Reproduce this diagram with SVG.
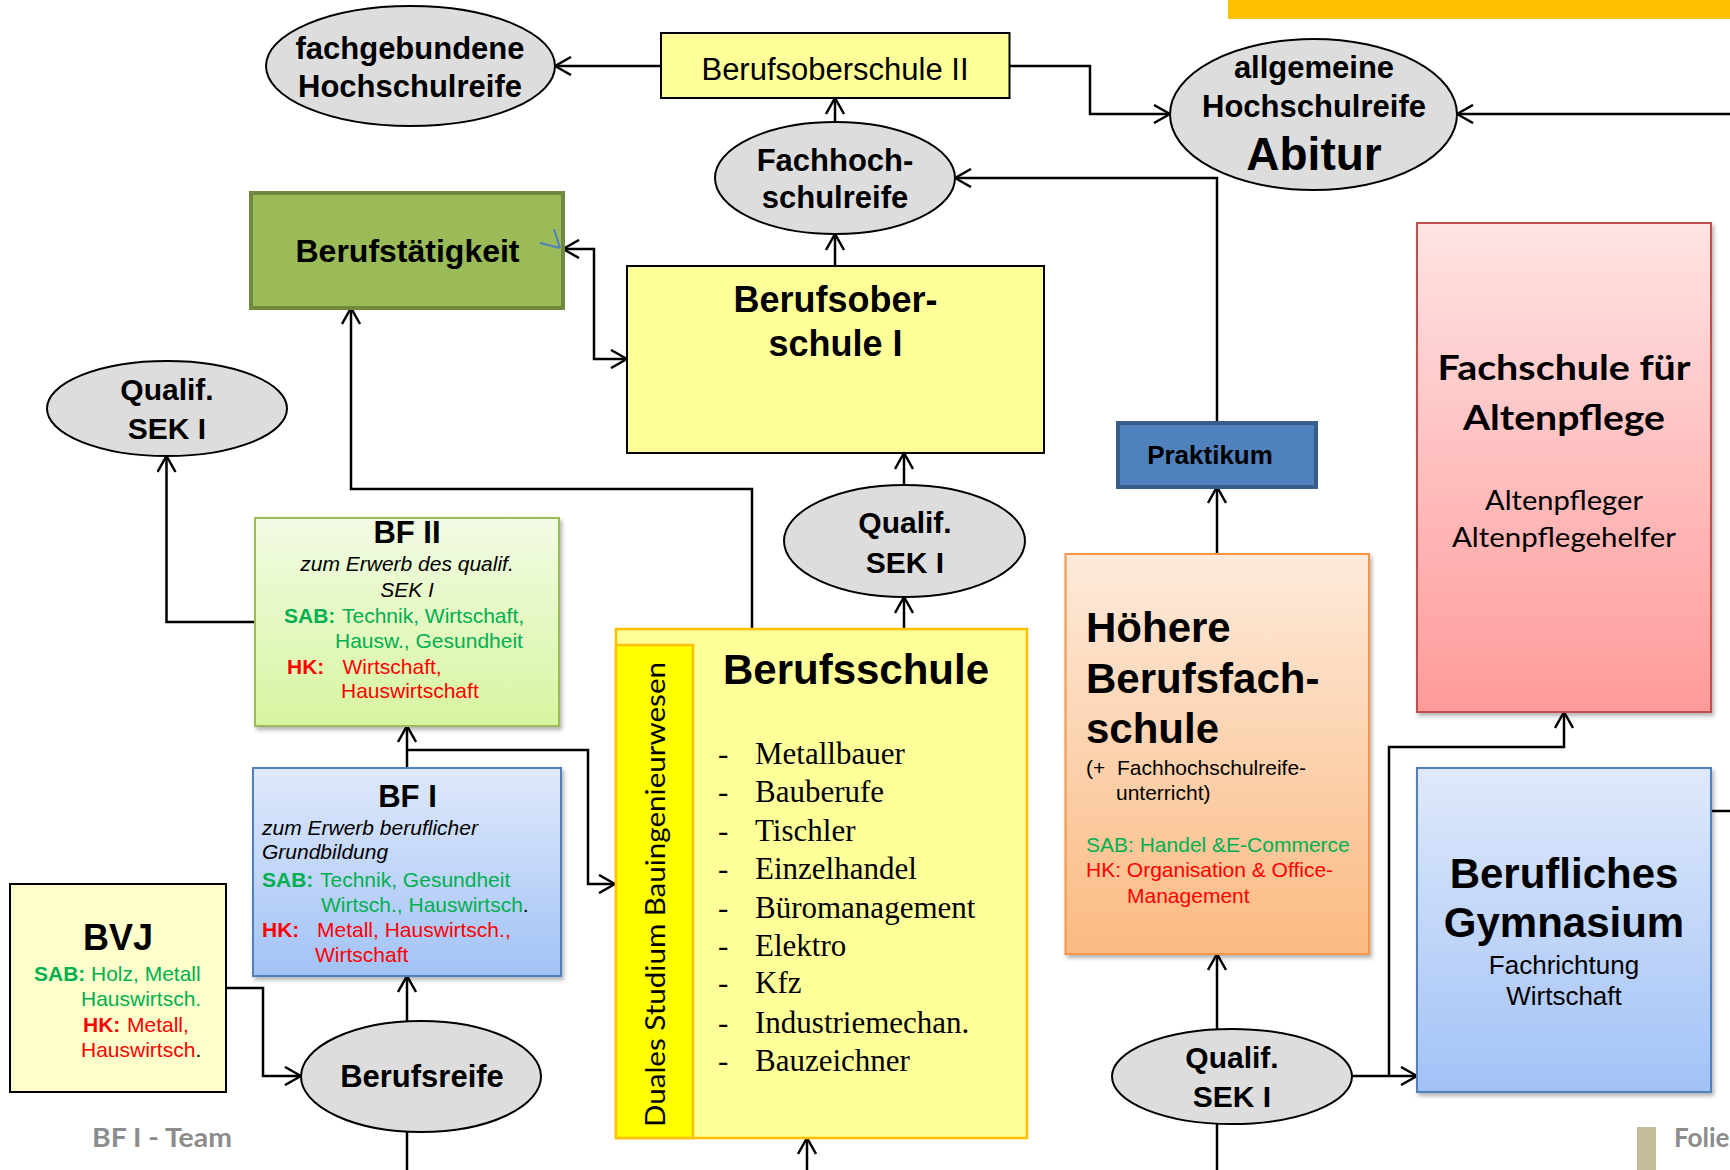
<svg xmlns="http://www.w3.org/2000/svg" width="1730" height="1170" viewBox="0 0 1730 1170">
<defs>
<style>
.s{font-family:"Liberation Sans",Arial,sans-serif}
.b{font-weight:bold}
.i{font-style:italic}
.c{text-anchor:middle}
.serif{font-family:"Liberation Serif","Times New Roman",serif;font-size:31px}
.cal{font-family:Lato,"Open Sans",sans-serif}
.g{fill:#00B050}
.r{fill:#FF0000}
.conn path{fill:none;stroke:#000;stroke-width:2.5}
.ell{fill:#DDDDDD;stroke:#000;stroke-width:2}
</style>
<marker id="ah" viewBox="0 0 18 20" refX="17" refY="10" markerWidth="18" markerHeight="20" markerUnits="userSpaceOnUse" orient="auto-start-reverse">
<path d="M1,1 L17,10 L1,19" fill="none" stroke="#000" stroke-width="2.5"/>
</marker>
<linearGradient id="gGreen" x1="0" y1="0" x2="0" y2="1"><stop offset="0" stop-color="#F2FBE4"/><stop offset="1" stop-color="#D7F5A0"/></linearGradient>
<linearGradient id="gBlue" x1="0" y1="0" x2="0" y2="1"><stop offset="0" stop-color="#DFE9FB"/><stop offset="1" stop-color="#A2C2F6"/></linearGradient>
<linearGradient id="gOrange" x1="0" y1="0" x2="0" y2="1"><stop offset="0" stop-color="#FDEADA"/><stop offset="1" stop-color="#FBBA82"/></linearGradient>
<linearGradient id="gPink" x1="0" y1="0" x2="0" y2="1"><stop offset="0" stop-color="#FFE3E3"/><stop offset="1" stop-color="#FF9A9A"/></linearGradient>
<filter id="sh" x="-10%" y="-10%" width="125%" height="125%"><feDropShadow dx="2" dy="3" stdDeviation="2" flood-color="#000" flood-opacity="0.3"/></filter>
</defs>
<rect x="0" y="0" width="1730" height="1170" fill="#FFFFFF"/>
<rect x="1228" y="0" width="502" height="19" fill="#FFC000"/>

<g class="conn">
<path d="M661,66 H555" marker-end="url(#ah)"/>
<path d="M1009.5,66 H1090 V114 H1170" marker-end="url(#ah)"/>
<path d="M835,122 V98" marker-end="url(#ah)"/>
<path d="M835,266 V234" marker-end="url(#ah)"/>
<path d="M1217,423 V178 H955" marker-end="url(#ah)"/>
<path d="M1730,114 H1457" marker-end="url(#ah)"/>
<path d="M563,249 H594 V359 H627" marker-start="url(#ah)" marker-end="url(#ah)"/>
<path d="M752,629 V489 H351 V308" marker-end="url(#ah)"/>
<path d="M255,622 H166.5 V456" marker-end="url(#ah)"/>
<path d="M407,768 V726" marker-end="url(#ah)"/>
<path d="M407,750 H588 V884 H615" marker-end="url(#ah)"/>
<path d="M904,485 V453" marker-end="url(#ah)"/>
<path d="M904,629 V597" marker-end="url(#ah)"/>
<path d="M1217,554 V487" marker-end="url(#ah)"/>
<path d="M1217,1029 V954" marker-end="url(#ah)"/>
<path d="M1217,1124 V1170"/>
<path d="M1351.6,1076 H1417" marker-end="url(#ah)"/>
<path d="M1389,1076 V747 H1564 V712" marker-end="url(#ah)"/>
<path d="M1711,811 H1730"/>
<path d="M226,988 H263 V1076 H301" marker-end="url(#ah)"/>
<path d="M407,1021 V976" marker-end="url(#ah)"/>
<path d="M407,1132 V1170"/>
<path d="M807,1170 V1138" marker-end="url(#ah)"/>
</g>

<g id="fachgebundene">
<ellipse class="ell" cx="410.5" cy="66" rx="144.5" ry="60"/>
<text class="s b c" x="410" y="59" font-size="31">fachgebundene</text>
<text class="s b c" x="410" y="97" font-size="31">Hochschulreife</text>
</g>

<g id="bos2">
<rect x="661" y="33" width="348.5" height="65" fill="#FFFF99" stroke="#000" stroke-width="2"/>
<text class="s c" x="835" y="80" font-size="31">Berufsoberschule II</text>
</g>

<g id="allgemeine">
<ellipse class="ell" cx="1313.5" cy="114.5" rx="143.5" ry="75.5"/>
<text class="s b c" x="1314" y="78" font-size="31">allgemeine</text>
<text class="s b c" x="1314" y="117" font-size="31">Hochschulreife</text>
<text class="s b c" x="1314" y="170" font-size="46">Abitur</text>
</g>

<g id="fhr">
<ellipse class="ell" cx="835" cy="178" rx="120" ry="56"/>
<text class="s b c" x="835" y="171" font-size="31">Fachhoch-</text>
<text class="s b c" x="835" y="208" font-size="31">schulreife</text>
</g>

<g id="berufstaetigkeit">
<rect x="251" y="193" width="312" height="115" fill="#9BBB59" stroke="#71893F" stroke-width="4"/>
<text class="s b c" x="407.5" y="262" font-size="32">Berufstätigkeit</text>
<path d="M540,243 L560,248 M554,229 L560,248" fill="none" stroke="#4F81BD" stroke-width="2"/>
</g>

<g id="bos1">
<rect x="627" y="266" width="417" height="187" fill="#FFFF99" stroke="#000" stroke-width="2"/>
<text class="s b c" x="835.5" y="312" font-size="36">Berufsober-</text>
<text class="s b c" x="835.5" y="356" font-size="36">schule I</text>
</g>

<g id="qualif-left">
<ellipse class="ell" cx="167" cy="408.5" rx="120" ry="47.5"/>
<text class="s b c" x="167" y="400" font-size="30">Qualif.</text>
<text class="s b c" x="167" y="439" font-size="30">SEK I</text>
</g>

<g id="praktikum">
<rect x="1118" y="423" width="198" height="64" fill="#4F81BD" stroke="#385D8A" stroke-width="4"/>
<text class="s b c" x="1210" y="464" font-size="26">Praktikum</text>
</g>

<g id="fachschule">
<rect x="1417" y="223" width="294" height="489" fill="url(#gPink)" stroke="#C0504D" stroke-width="2" filter="url(#sh)"/>
<text class="cal b c" x="1564" y="380" font-size="35" textLength="253" lengthAdjust="spacingAndGlyphs">Fachschule für</text>
<text class="cal b c" x="1564" y="430" font-size="35" textLength="202" lengthAdjust="spacingAndGlyphs">Altenpflege</text>
<text class="cal c" x="1564" y="510" font-size="27" textLength="158" lengthAdjust="spacingAndGlyphs">Altenpfleger</text>
<text class="cal c" x="1564" y="547" font-size="27" textLength="224" lengthAdjust="spacingAndGlyphs">Altenpflegehelfer</text>
</g>

<g id="qualif-mid">
<ellipse class="ell" cx="904.5" cy="541" rx="120.5" ry="56"/>
<text class="s b c" x="905" y="533" font-size="30">Qualif.</text>
<text class="s b c" x="905" y="573" font-size="30">SEK I</text>
</g>

<g id="bf2">
<rect x="255" y="518" width="304" height="208" fill="url(#gGreen)" stroke="#9BBB59" stroke-width="2" filter="url(#sh)"/>
<text class="s b c" x="407" y="543" font-size="31">BF II</text>
<text class="s i c" x="407" y="571" font-size="21">zum Erwerb des qualif.</text>
<text class="s i c" x="407" y="597" font-size="21">SEK I</text>
<text class="s b g" x="284" y="623" font-size="21">SAB:</text>
<text class="s g" x="342" y="623" font-size="21">Technik, Wirtschaft,</text>
<text class="s g" x="335" y="648" font-size="21">Hausw., Gesundheit</text>
<text class="s b r" x="287" y="674" font-size="21">HK:</text>
<text class="s r" x="342.5" y="674" font-size="21">Wirtschaft,</text>
<text class="s r" x="341" y="698" font-size="21">Hauswirtschaft</text>
</g>

<g id="bf1">
<rect x="253" y="768" width="308" height="208" fill="url(#gBlue)" stroke="#4F81BD" stroke-width="2" filter="url(#sh)"/>
<text class="s b c" x="407.5" y="807" font-size="31">BF I</text>
<text class="s i" x="262" y="835" font-size="21">zum Erwerb beruflicher</text>
<text class="s i" x="262" y="859" font-size="21">Grundbildung</text>
<text class="s b g" x="262" y="887" font-size="21">SAB:</text>
<text class="s g" x="320" y="887" font-size="21">Technik, Gesundheit</text>
<text class="s" x="321" y="912" font-size="21"><tspan class="g">Wirtsch., Hauswirtsch</tspan>.</text>
<text class="s b r" x="262" y="937" font-size="21">HK:</text>
<text class="s r" x="317" y="937" font-size="21">Metall, Hauswirtsch.,</text>
<text class="s r" x="315" y="962" font-size="21">Wirtschaft</text>
</g>

<g id="bvj">
<rect x="10" y="884" width="216" height="208" fill="#FFFFCC" stroke="#000" stroke-width="2"/>
<text class="s b c" x="118" y="950" font-size="36">BVJ</text>
<text class="s b g" x="34" y="981" font-size="21">SAB:</text>
<text class="s g" x="91" y="981" font-size="21">Holz, Metall</text>
<text class="s g" x="81" y="1006" font-size="21">Hauswirtsch.</text>
<text class="s b r" x="83" y="1032" font-size="21">HK:</text>
<text class="s r" x="127" y="1032" font-size="21">Metall,</text>
<text class="s" x="81" y="1057" font-size="21"><tspan class="r">Hauswirtsch</tspan>.</text>
</g>

<g id="berufsreife">
<ellipse class="ell" cx="421" cy="1076.5" rx="120" ry="55.5"/>
<text class="s b c" x="422" y="1087" font-size="31">Berufsreife</text>
</g>

<g id="berufsschule">
<rect x="616" y="629" width="411" height="509" fill="#FFFF99" stroke="#FFC000" stroke-width="2.5"/>
<rect x="616" y="645" width="77" height="493" fill="#FFFF00" stroke="#FFC000" stroke-width="2.5"/>
<text class="cal c" transform="translate(665,894.5) rotate(-90)" x="0" y="0" font-size="27" textLength="465" lengthAdjust="spacingAndGlyphs">Duales Studium Bauingenieurwesen</text>
<text class="s b c" x="856" y="684" font-size="42">Berufsschule</text>
<g class="serif">
<text x="718" y="763.6">-</text><text x="755" y="763.6">Metallbauer</text>
<text x="718" y="801.7">-</text><text x="755" y="801.7">Bauberufe</text>
<text x="718" y="840.6">-</text><text x="755" y="840.6">Tischler</text>
<text x="718" y="878.8">-</text><text x="755" y="878.8">Einzelhandel</text>
<text x="718" y="918">-</text><text x="755" y="918">Büromanagement</text>
<text x="718" y="955.5">-</text><text x="755" y="955.5">Elektro</text>
<text x="718" y="993">-</text><text x="755" y="993">Kfz</text>
<text x="718" y="1032.6">-</text><text x="755" y="1032.6">Industriemechan.</text>
<text x="718" y="1070.7">-</text><text x="755" y="1070.7">Bauzeichner</text>
</g>
</g>

<g id="hoehere">
<rect x="1065.5" y="554" width="303.5" height="400" fill="url(#gOrange)" stroke="#F79646" stroke-width="2" filter="url(#sh)"/>
<text class="s b" x="1086" y="642" font-size="42">Höhere</text>
<text class="s b" x="1086" y="693" font-size="42">Berufsfach-</text>
<text class="s b" x="1086" y="743" font-size="42">schule</text>
<text class="s" x="1086" y="775" font-size="21">(+</text>
<text class="s" x="1117" y="775" font-size="21">Fachhochschulreife-</text>
<text class="s" x="1116" y="800" font-size="21">unterricht)</text>
<text class="s g" x="1086" y="852" font-size="21">SAB: Handel &amp;E-Commerce</text>
<text class="s r" x="1086" y="877" font-size="21">HK: Organisation &amp; Office-</text>
<text class="s r" x="1127" y="903" font-size="21">Management</text>
</g>

<g id="gymnasium">
<rect x="1417" y="768" width="294" height="324" fill="url(#gBlue)" stroke="#4F81BD" stroke-width="2" filter="url(#sh)"/>
<text class="s b c" x="1564" y="888" font-size="42">Berufliches</text>
<text class="s b c" x="1564" y="937" font-size="42">Gymnasium</text>
<text class="s c" x="1564" y="974" font-size="26">Fachrichtung</text>
<text class="s c" x="1564" y="1005" font-size="26">Wirtschaft</text>
</g>

<g id="qualif-right">
<ellipse class="ell" cx="1232" cy="1076.5" rx="120" ry="47.5"/>
<text class="s b c" x="1232" y="1068" font-size="30">Qualif.</text>
<text class="s b c" x="1232" y="1107" font-size="30">SEK I</text>
</g>

<g id="footer">
<text class="cal b" x="92" y="1147" font-size="26" fill="#8C8C8C" textLength="140" lengthAdjust="spacingAndGlyphs">BF I - Team</text>
<rect x="1637" y="1127" width="19" height="43" fill="#C4BD97"/>
<text class="cal b" x="1674" y="1147" font-size="26" fill="#8C8C8C">Folie</text>
</g>
</svg>
